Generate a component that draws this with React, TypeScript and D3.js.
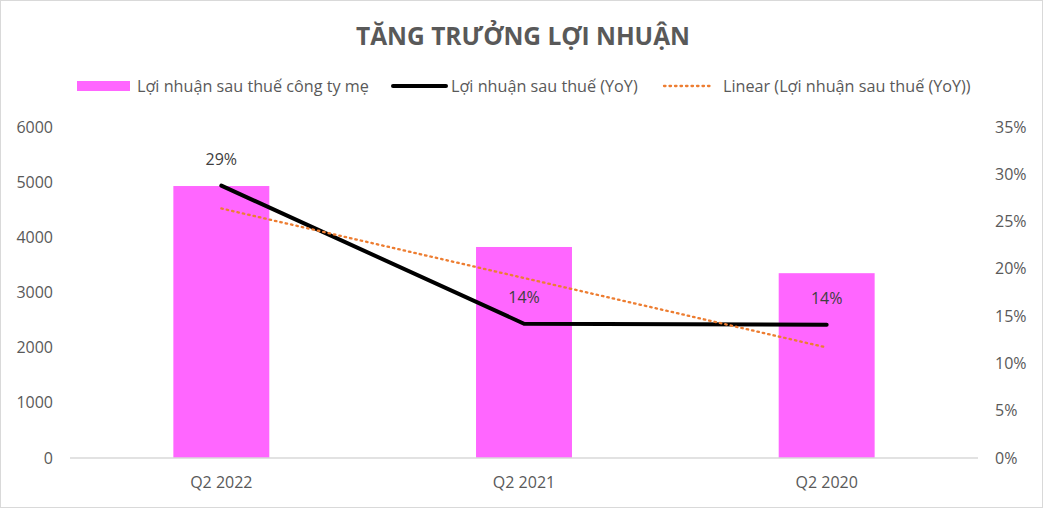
import React from "react";
import * as d3 from "d3";

const categories = ["Q2 2022", "Q2 2021", "Q2 2020"];
const profitValues = [4930, 3825, 3350];
const yoyValues = [0.288, 0.142, 0.141];
const yoyLabels = ["29%", "14%", "14%"];
const leftTicks = [0, 1000, 2000, 3000, 4000, 5000, 6000];
const rightTicks = [0, 0.05, 0.1, 0.15, 0.2, 0.25, 0.3, 0.35];

const W = 1043;
const H = 508;
const plot = { left: 70, right: 978, top: 127, bottom: 458 };
const font = "'Open Sans', 'Segoe UI', sans-serif";
const txt = "#595959";

export default function App() {
  const x = d3
    .scaleBand<string>()
    .domain(categories)
    .range([plot.left, plot.right])
    .paddingInner(0.683)
    .paddingOuter(0.3415);
  const yL = d3.scaleLinear().domain([0, 6000]).range([plot.bottom, plot.top]);
  const yR = d3.scaleLinear().domain([0, 0.35]).range([plot.bottom, plot.top]);
  const cx = (c: string) => (x(c) ?? 0) + x.bandwidth() / 2;

  const line = d3
    .line<number>()
    .x((_, i) => cx(categories[i]))
    .y((d) => yR(d));

  // linear trendline (least squares) over the YoY series
  const n = yoyValues.length;
  const xs = d3.range(n);
  const mx = d3.mean(xs)!;
  const my = d3.mean(yoyValues)!;
  const slope =
    d3.sum(xs, (xi, i) => (xi - mx) * (yoyValues[i] - my)) /
    d3.sum(xs, (xi) => (xi - mx) ** 2);
  const intercept = my - slope * mx;
  const trend = xs.map((xi) => intercept + slope * xi);

  return (
    <svg
      width={W}
      height={H}
      style={{ position: "absolute", left: 0, top: 0, fontFamily: font }}
    >
      <rect x={0.5} y={0.5} width={W - 1} height={H - 1} fill="#fff" stroke="#d9d9d9" />
      <text x={523} y={45} textAnchor="middle" fontSize={24.5} fontWeight="bold" fill={txt}>
        TĂNG TRƯỞNG LỢI NHUẬN
      </text>

      {/* legend */}
      <g fontSize={16.2} fill={txt}>
        <rect x={77} y={81} width={53} height={10} fill="#ff66ff" />
        <text x={137} y={91.5}>Lợi nhuận sau thuế công ty mẹ</text>
        <line x1={393} y1={86} x2={446} y2={86} stroke="#000" strokeWidth={4} strokeLinecap="round" />
        <text x={451} y={91.5}>Lợi nhuận sau thuế (YoY)</text>
        <line x1={664} y1={86} x2={713} y2={86} stroke="#ed7d31" strokeWidth={2.3} strokeDasharray="1.5 4" strokeLinecap="round" />
        <text x={723} y={91.5}>Linear (Lợi nhuận sau thuế (YoY))</text>
      </g>

      {/* left axis */}
      <g fontSize={16} fill={txt} textAnchor="end">
        {leftTicks.map((t) => (
          <text key={t} x={53} y={yL(t) + 5.5}>
            {t}
          </text>
        ))}
      </g>
      {/* right axis */}
      <g fontSize={16} fill={txt} textAnchor="start">
        {rightTicks.map((t) => (
          <text key={t} x={995} y={yR(t) + 5.5}>
            {`${Math.round(t * 100)}%`}
          </text>
        ))}
      </g>

      {/* bars */}
      {categories.map((c, i) => (
        <rect
          key={c}
          x={x(c)}
          y={yL(profitValues[i])}
          width={x.bandwidth()}
          height={yL(0) - yL(profitValues[i])}
          fill="#ff66ff"
        />
      ))}

      <line x1={plot.left} x2={plot.right} y1={plot.bottom} y2={plot.bottom} stroke="#d9d9d9" strokeWidth={1.5} />

      {/* category labels */}
      <g fontSize={16} fill={txt} textAnchor="middle">
        {categories.map((c) => (
          <text key={c} x={cx(c)} y={488}>
            {c}
          </text>
        ))}
      </g>

      {/* YoY line */}
      <path d={line(yoyValues) ?? ""} fill="none" stroke="#000" strokeWidth={4} strokeLinecap="round" strokeLinejoin="round" />

      {/* trendline */}
      <path
        d={line(trend) ?? ""}
        fill="none"
        stroke="#ed7d31"
        strokeWidth={2.3}
        strokeDasharray="1.5 4"
        strokeLinecap="round"
      />

      {/* data labels */}
      <g fontSize={16} fill="#404040" textAnchor="middle">
        {categories.map((c, i) => (
          <text key={c} x={cx(c)} y={yR(yoyValues[i]) - 21}>
            {yoyLabels[i]}
          </text>
        ))}
      </g>
    </svg>
  );
}
